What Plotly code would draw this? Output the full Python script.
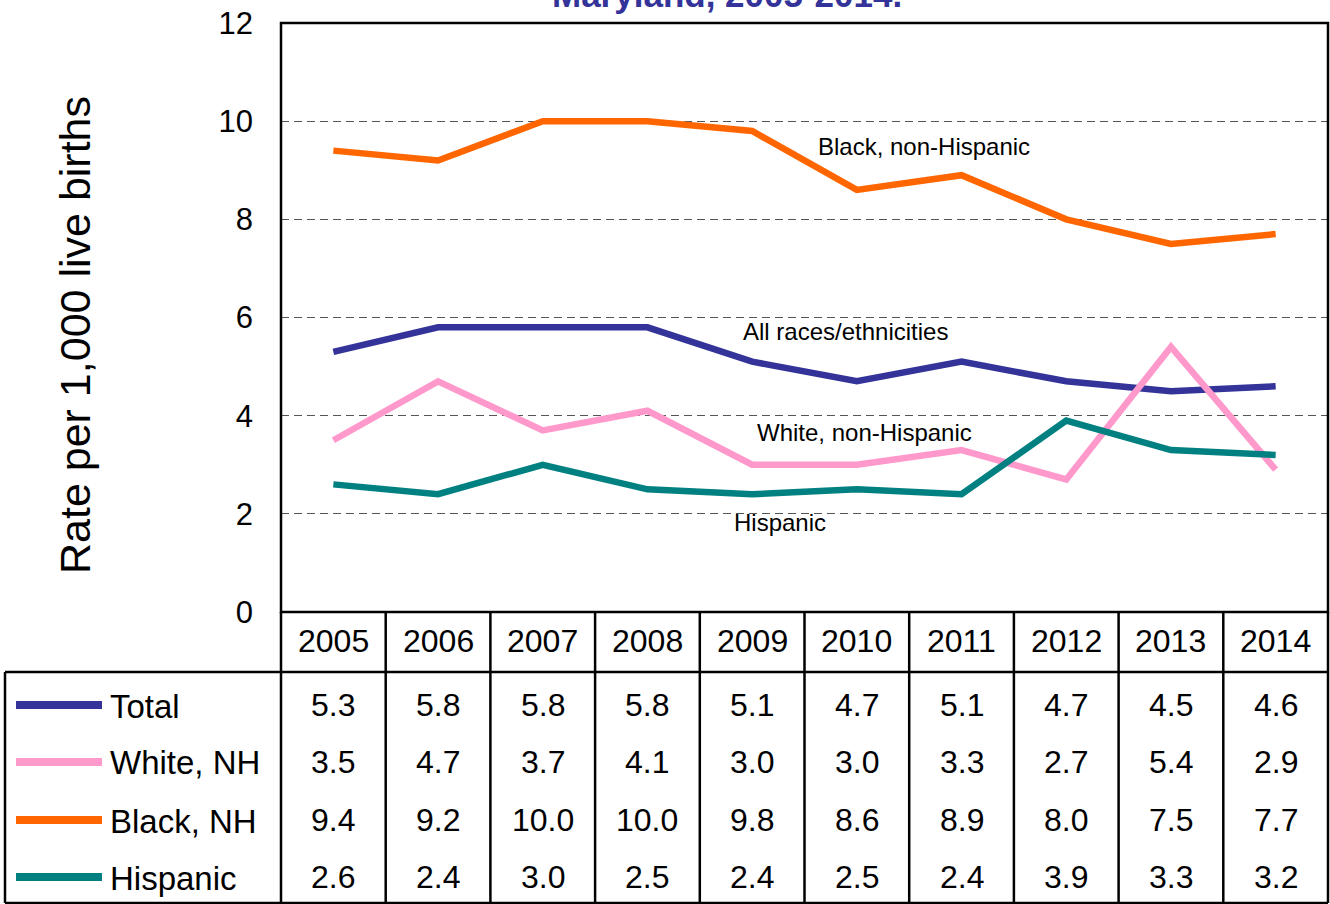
import plotly.graph_objects as go

# data
years = [2005, 2006, 2007, 2008, 2009, 2010, 2011, 2012, 2013, 2014]
total = [5.3, 5.8, 5.8, 5.8, 5.1, 4.7, 5.1, 4.7, 4.5, 4.6]
white_nh = [3.5, 4.7, 3.7, 4.1, 3.0, 3.0, 3.3, 2.7, 5.4, 2.9]
black_nh = [9.4, 9.2, 10.0, 10.0, 9.8, 8.6, 8.9, 8.0, 7.5, 7.7]
hispanic = [2.6, 2.4, 3.0, 2.5, 2.4, 2.5, 2.4, 3.9, 3.3, 3.2]

series = [
    ("Total", total, "#333399"),
    ("White, NH", white_nh, "#FF99CC"),
    ("Black, NH", black_nh, "#FF6600"),
    ("Hispanic", hispanic, "#008080"),
]

W, H = 1330, 904
L, R, T, B = 281, 2, 23, 292
PW = W - L - R
PH = H - T - B
FONT = "Arial, Liberation Sans, sans-serif"


def px(p):
    return (p - L) / PW


def py(p):
    return (H - B - p) / PH


fig = go.Figure()
for name, vals, col in series:
    fig.add_trace(go.Scatter(x=years, y=vals, mode="lines", name=name,
                             line=dict(color=col, width=6.5),
                             showlegend=False, hoverinfo="skip"))

ann = []
shp = []


def text(x, y, s, size, xref="paper", **kw):
    d = dict(x=x, y=y, xref=xref, yref="paper", text=s, showarrow=False,
             xanchor="center", yanchor="middle",
             font=dict(family=FONT, size=size, color=kw.pop("color", "black")))
    d.update(kw)
    ann.append(d)


# title (cut off at top of the picture, as in the original)
text(px(727), py(-6), "<b>Maryland, 2005-2014.</b>", 35, color="#333399")
# y title
text(px(75), py(335), "Rate per 1,000 live births", 43, textangle=-90)

# in-plot labels
for txt, xx, yy in [("Black, non-Hispanic", 924, 146),
                    ("All races/ethnicities", 845, 331),
                    ("White, non-Hispanic", 864, 432),
                    ("Hispanic", 780, 522)]:
    text(px(xx), py(yy), txt, 24)

# table: years row
for yr in years:
    text(yr, py(641), str(yr), 32, xref="x")

row_y = [705, 762, 820, 877]
for (name, vals, col), ry in zip(series, row_y):
    shp.append(dict(type="line", xref="paper", yref="paper",
                    x0=px(16), x1=px(102), y0=py(ry), y1=py(ry),
                    line=dict(color=col, width=8)))
    text(px(108), py(ry + 1), name, 33, xanchor="left")
    for yr, v in zip(years, vals):
        text(yr, py(ry), f"{v:.1f}", 32, xref="x")

lw = 2.5
# plot frame
shp.append(dict(type="rect", xref="paper", yref="paper", x0=0, x1=1, y0=0, y1=1,
                line=dict(color="black", width=lw)))
# table lines
shp.append(dict(type="line", xref="paper", yref="paper", x0=px(5), x1=1,
                y0=py(672), y1=py(672), line=dict(color="black", width=lw)))
shp.append(dict(type="line", xref="paper", yref="paper", x0=px(5), x1=1,
                y0=py(903), y1=py(903), line=dict(color="black", width=lw)))
shp.append(dict(type="line", xref="paper", yref="paper", x0=px(5), x1=px(5),
                y0=py(672), y1=py(903), line=dict(color="black", width=lw)))
shp.append(dict(type="line", xref="paper", yref="paper", x0=0, x1=0,
                y0=0, y1=py(903), line=dict(color="black", width=lw)))
shp.append(dict(type="line", xref="paper", yref="paper", x0=1, x1=1,
                y0=0, y1=py(903), line=dict(color="black", width=lw)))
for yr in years[1:]:
    shp.append(dict(type="line", xref="x", yref="paper", x0=yr - 0.5, x1=yr - 0.5,
                    y0=0, y1=py(903), line=dict(color="black", width=lw)))

fig.update_layout(
    width=W, height=H,
    margin=dict(l=L, r=R, t=T, b=B),
    plot_bgcolor="white", paper_bgcolor="white",
    annotations=ann, shapes=shp,
    xaxis=dict(range=[2004.5, 2014.5], showticklabels=False, showgrid=False,
               zeroline=False, showline=False, ticks=""),
    yaxis=dict(range=[0, 12], tickvals=[0, 2, 4, 6, 8, 10, 12], showgrid=True,
               gridcolor="#555555", gridwidth=1, griddash="8px,5px",
               zeroline=False, showline=False, ticks="", ticklabelstandoff=27,
               tickfont=dict(family=FONT, size=31, color="black")),
)

fig.write_html("out.html", config={"displayModeBar": False},
               post_script="document.body.style.margin='0px';")
